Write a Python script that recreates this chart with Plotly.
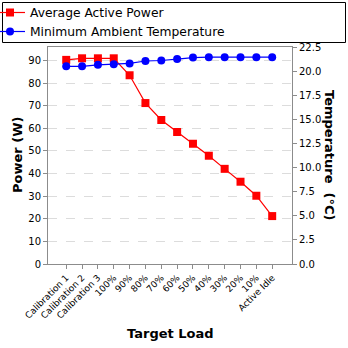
import plotly.graph_objects as go

categories = ["Calibration 1", "Calibration 2", "Calibration 3", "100%", "90%", "80%",
              "70%", "60%", "50%", "40%", "30%", "20%", "10%", "Active Idle"]
power_w = [90.3, 91.0, 91.0, 91.0, 83.5, 71.2, 63.7, 58.4, 53.2, 47.9, 42.1, 36.4, 30.2, 21.2]
temp_c = [20.5, 20.5, 20.65, 20.7, 20.8, 21.05, 21.1, 21.25, 21.4, 21.45, 21.45, 21.45, 21.45, 21.45]
power_ticks = [0, 10, 20, 30, 40, 50, 60, 70, 80, 90]
temp_ticks = [0.0, 2.5, 5.0, 7.5, 10.0, 12.5, 15.0, 17.5, 20.0, 22.5]

W, H = 348, 348
L, R, T, B = 48, 56, 47, 84
pw, ph = W - L - R, H - T - B
FONT = "DejaVu Sans"
AX = "#8c8c8c"

def px(x):
    return (x - L) / pw

def py(y):
    return (H - B - y) / ph

xi = list(range(len(categories)))

fig = go.Figure()
fig.add_trace(go.Scatter(
    x=xi, y=power_w, name="Average Active Power", mode="lines+markers",
    line=dict(color="#ff0000", width=1.2),
    marker=dict(symbol="square", size=8, color="#ff0000"),
    yaxis="y"))
fig.add_trace(go.Scatter(
    x=xi, y=temp_c, name="Minimum Ambient Temperature", mode="lines+markers",
    line=dict(color="#0000ff", width=1.2),
    marker=dict(symbol="circle", size=8, color="#0000ff"),
    yaxis="y2"))

fig.update_layout(
    width=W, height=H,
    margin=dict(l=L, r=R, t=T, b=B, autoexpand=False),
    paper_bgcolor="white", plot_bgcolor="white",
    font=dict(family=FONT, size=10, color="#000000"),
    showlegend=True,
    legend=dict(x=px(-10), y=py(-2), xanchor="left", yanchor="top",
                bgcolor="rgba(0,0,0,0)", borderwidth=0,
                font=dict(family=FONT, size=12.3, color="#000000"),
                tracegroupgap=0),
    xaxis=dict(range=[-1.15, 14.25], tickmode="array", tickvals=xi, ticktext=categories,
               tickangle=-45, ticks="outside", ticklen=4, tickcolor=AX,
               showline=True, linecolor=AX, linewidth=1, mirror=True,
               showgrid=False, zeroline=False,
               tickfont=dict(family=FONT, size=9)),
    yaxis=dict(range=[0, 96], tickmode="array", tickvals=power_ticks,
               ticks="outside", ticklen=4, tickcolor=AX,
               showline=True, linecolor=AX, linewidth=1,
               showgrid=True, gridcolor="#dcdcdc", griddash="dash", gridwidth=1,
               zeroline=False, tickfont=dict(family=FONT, size=10)),
    yaxis2=dict(range=[0, 22.5], overlaying="y", side="right", tickmode="array",
                tickvals=temp_ticks, tickformat=".1f",
                ticks="outside", ticklen=4, tickcolor=AX,
                showline=True, linecolor=AX, linewidth=1,
                showgrid=False, zeroline=False, tickfont=dict(family=FONT, size=10)),
    shapes=[dict(type="rect", xref="paper", yref="paper",
                 x0=px(2.5), x1=px(345.5), y0=py(42.5), y1=py(2.5),
                 line=dict(color="#000000", width=1), fillcolor="rgba(0,0,0,0)")],
    annotations=[
        dict(text="<b>Power (W)</b>", xref="paper", yref="paper", x=px(17), y=py(155),
             textangle=-90, showarrow=False, font=dict(family=FONT, size=13),
             xanchor="center", yanchor="middle"),
        dict(text="<b>Temperature \u00a0(°C)</b>", xref="paper", yref="paper", x=px(330), y=py(155),
             textangle=90, showarrow=False, font=dict(family=FONT, size=13),
             xanchor="center", yanchor="middle"),
        dict(text="<b>Target Load</b>", xref="paper", yref="paper", x=px(170), y=py(333),
             showarrow=False, font=dict(family=FONT, size=13),
             xanchor="center", yanchor="middle"),
    ],
)

fig.write_html("out.html")
